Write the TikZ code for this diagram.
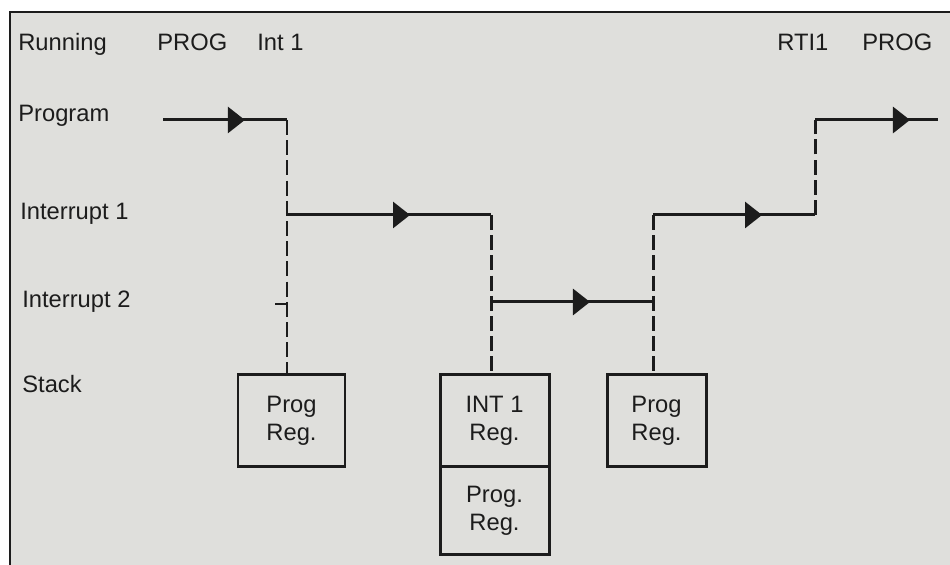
\documentclass[tikz,border=0pt]{standalone}
\usepackage{fontspec}
\setmainfont{Liberation Sans}
\definecolor{PaperGray}{RGB}{223,223,220}
\definecolor{InkBlack}{RGB}{28,28,28}
\usetikzlibrary{arrows.meta, positioning, decorations.markings}

\tikzset{
  lbl/.style={anchor=base west, inner sep=0pt, text=InkBlack,
              font=\fontsize{13.5}{16}\selectfont},
  reg/.style={draw=InkBlack, line width=1.7pt, outer sep=0pt, inner sep=0pt,
              minimum height=1.84cm, align=center, text=InkBlack,
              font=\fontsize{13.5}{16}\selectfont},
  flow/.style={InkBlack, line width=1.7pt},
  jump/.style={InkBlack, line width=1.7pt, dash pattern=on 8.5pt off 3pt},
  midtip/.style={postaction={decorate},
                 decoration={markings, mark=at position #1 with
                 {\arrow{Triangle[length=0.34cm, width=0.52cm]}}}}
}

\begin{document}
\begin{tikzpicture}

  \useasboundingbox (0,0) rectangle (19,11.3);

  % Paper and frame
  \fill[PaperGray] (0.2,0) rectangle (19,11.06);
  \draw[InkBlack, line width=1.6pt]
        (0.2,0) -- (0.2,11.06) -- (19,11.06);

  % Header row
  \node[lbl] (run)   at (0.36,10.28) {Running};
  \node[lbl] (runA)  at (3.14,10.28) {PROG};
  \node[lbl] (runB)  at (5.14,10.28) {Int 1};
  \node[lbl] (runC)  at (15.54,10.28) {RTI1};
  \node[lbl] (runD)  at (17.24,10.28) {PROG};

  % Level names
  \node[lbl] (lvProg) at (0.36,8.86) {Program};
  \node[lbl] (lvIntA) at (0.40,6.90) {Interrupt 1};
  \node[lbl] (lvIntB) at (0.44,5.14) {Interrupt 2};
  \node[lbl] (lvStk)  at (0.44,3.44) {Stack};

  % Corners of the run path
  \coordinate (pgIn)    at (3.26,8.9);
  \coordinate (irqA)    at (5.74,8.9);
  \coordinate (irqAlow) at (5.74,7.0);
  \coordinate (irqB)    at (9.82,7.0);
  \coordinate (irqBlow) at (9.82,5.26);
  \coordinate (rtiB)    at (13.06,5.26);
  \coordinate (rtiBup)  at (13.06,7.0);
  \coordinate (rtiA)    at (16.3,7.0);
  \coordinate (rtiAup)  at (16.3,8.9);
  \coordinate (pgOut)   at (18.76,8.9);
  \coordinate (stub)    at (5.50,5.22);

  % Stack boxes
  \node[reg, minimum width=2.14cm] (progA) at (5.83,2.88) {Prog\\Reg.};
  \node[reg, minimum width=2.18cm] (intA)  at (9.89,2.88) {INT 1\\Reg.};
  \node[reg, minimum width=2.18cm, minimum height=1.76cm,
        below=0pt of intA] (progB) {Prog.\\Reg.};
  \node[reg, minimum width=1.98cm] (progC) at (13.13,2.88) {Prog\\Reg.};

  % Jumps between levels
  \draw[jump] (irqA) -- (irqA |- progA.north);
  \draw[jump] (irqB) -- (irqB |- intA.north);
  \draw[jump] (rtiBup) -- (rtiB |- progC.north);
  \draw[jump] (rtiA) -- (rtiAup);

  % Running on each level
  \draw[flow, midtip=0.66]  (pgIn) -- (irqA);
  \draw[flow, midtip=0.603] (irqAlow) -- (irqB);
  \draw[flow, midtip=0.611] (irqBlow) -- (rtiB);
  \draw[flow, midtip=0.673] (rtiBup) -- (rtiA);
  \draw[flow, midtip=0.772] (rtiAup) -- (pgOut);
  \draw[flow, line width=1.2pt] (stub) -- (stub -| irqA);

\end{tikzpicture}
\end{document}
